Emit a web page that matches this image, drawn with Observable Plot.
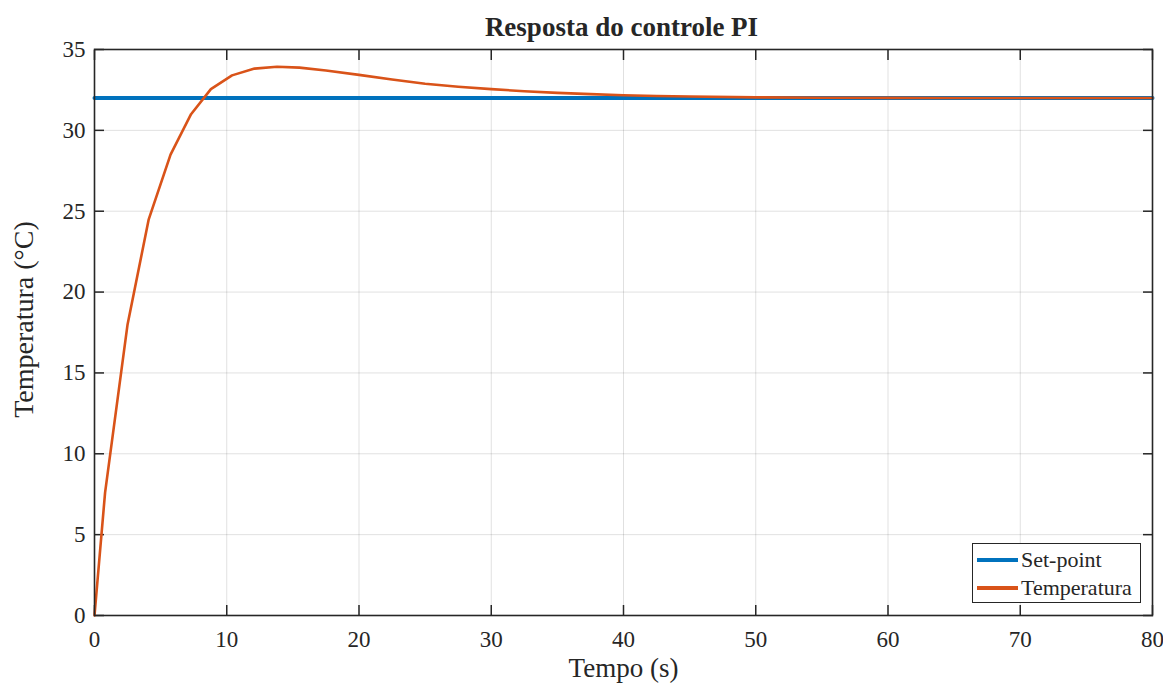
<!DOCTYPE html>
<html>
<head>
<meta charset="utf-8">
<script src="https://cdn.jsdelivr.net/npm/d3@7"></script>
<script src="https://cdn.jsdelivr.net/npm/@observablehq/plot@0.6"></script>
<style>
  html, body { margin: 0; padding: 0; background: #fff; }
  #wrap { position: relative; width: 1163px; height: 684px; font-family: "Liberation Serif", "Times New Roman", serif; color: #262626; }
  #title { height: 30px; line-height: 54px; overflow: visible; text-align: center; font-weight: bold; font-size: 27px; padding-left: 80px; box-sizing: border-box; position: relative; z-index: 1; }
  #legend { position: absolute; left: 972px; top: 543px; width: 169px; height: 60px; border: 1.3px solid #262626; background: #fff; box-sizing: border-box; font-size: 22px; }
  .row { position: absolute; left: 0; height: 28px; display: flex; align-items: center; }
  .sw { width: 41px; height: 4px; margin-left: 4px; margin-right: 3px; }
</style>
</head>
<body>
<div id="wrap">
  <div id="title">Resposta do controle PI</div>
  <div id="chart"></div>
  <div id="legend"></div>
</div>
<script>
// ---- data ----
const time = [0, 0.8, 2.5, 4.1, 5.75, 7.3, 8.8, 10.4, 12.1, 13.8, 15.5, 17.5, 20, 22.5, 25, 27.5, 30, 32.5, 35, 37.5, 40, 42.5, 45, 50, 55, 60, 65, 70, 75, 80];
const temperatura = [0, 7.6, 18.0, 24.5, 28.5, 31.0, 32.55, 33.4, 33.82, 33.93, 33.88, 33.7, 33.43, 33.14, 32.88, 32.7, 32.55, 32.42, 32.32, 32.24, 32.17, 32.12, 32.09, 32.04, 32.02, 32.01, 32.0, 32.0, 32.0, 32.0];
const setpointTime = [0, 80];
const setpointValue = [32, 32];
const xTicks = [0, 10, 20, 30, 40, 50, 60, 70, 80];
const yTicks = [0, 5, 10, 15, 20, 25, 30, 35];
const seriesNames = ["Set-point", "Temperatura"];
const seriesColors = ["#0072BD", "#D95319"];

const tempData = time.map((t, i) => ({t, v: temperatura[i]}));
const spData = setpointTime.map((t, i) => ({t, v: setpointValue[i]}));

const ink = "#262626";
const chart = Plot.plot({
  width: 1163,
  height: 654,
  marginTop: 19,
  marginBottom: 69,
  marginLeft: 94,
  marginRight: 11,
  style: {fontFamily: '"Liberation Serif", "Times New Roman", serif', color: ink, background: "transparent"},
  x: {domain: [0, 80], axis: null},
  y: {domain: [0, 35], axis: null},
  marks: [
    Plot.gridX(xTicks, {stroke: "#000", strokeOpacity: 0.12, strokeWidth: 1}),
    Plot.gridY(yTicks, {stroke: "#000", strokeOpacity: 0.12, strokeWidth: 1}),
    Plot.axisX(xTicks, {anchor: "bottom", tickSize: -10, tickPadding: 0, text: null, stroke: ink, strokeWidth: 1.5, label: null}),
    Plot.axisX(xTicks, {anchor: "top", tickSize: -10, tickPadding: 0, text: null, stroke: ink, strokeWidth: 1.5, label: null}),
    Plot.axisY(yTicks, {anchor: "left", tickSize: -10, tickPadding: 0, text: null, stroke: ink, strokeWidth: 1.5, label: null}),
    Plot.axisY(yTicks, {anchor: "right", tickSize: -10, tickPadding: 0, text: null, stroke: ink, strokeWidth: 1.5, label: null}),
    Plot.axisX(xTicks, {anchor: "bottom", tickSize: 0, tickPadding: 15, fontSize: 23, fill: ink, label: null}),
    Plot.axisY(yTicks, {anchor: "left", tickSize: 0, tickPadding: 9, fontSize: 23, fill: ink, label: null}),
    Plot.text(["Tempo (s)"], {frameAnchor: "bottom", textAnchor: "middle", dy: 61, fontSize: 27, fill: ink}),
    Plot.text(["Temperatura (°C)"], {frameAnchor: "left", textAnchor: "middle", dx: -70, dy: -13, rotate: -90, fontSize: 28, fill: ink}),
    Plot.line(spData, {x: "t", y: "v", stroke: seriesColors[0], strokeWidth: 4}),
    Plot.line(tempData, {x: "t", y: "v", stroke: seriesColors[1], strokeWidth: 2.6, strokeLinejoin: "round"}),
    Plot.frame({stroke: ink, strokeWidth: 1.6})
  ]
});
document.getElementById("chart").appendChild(chart);

const legend = document.getElementById("legend");
seriesNames.forEach((name, i) => {
  const row = document.createElement("div");
  row.className = "row";
  row.style.top = (2 + i * 28) + "px";
  const sw = document.createElement("div");
  sw.className = "sw";
  sw.style.background = seriesColors[i];
  const label = document.createElement("span");
  label.textContent = name;
  row.appendChild(sw);
  row.appendChild(label);
  legend.appendChild(row);
});
</script>
</body>
</html>
